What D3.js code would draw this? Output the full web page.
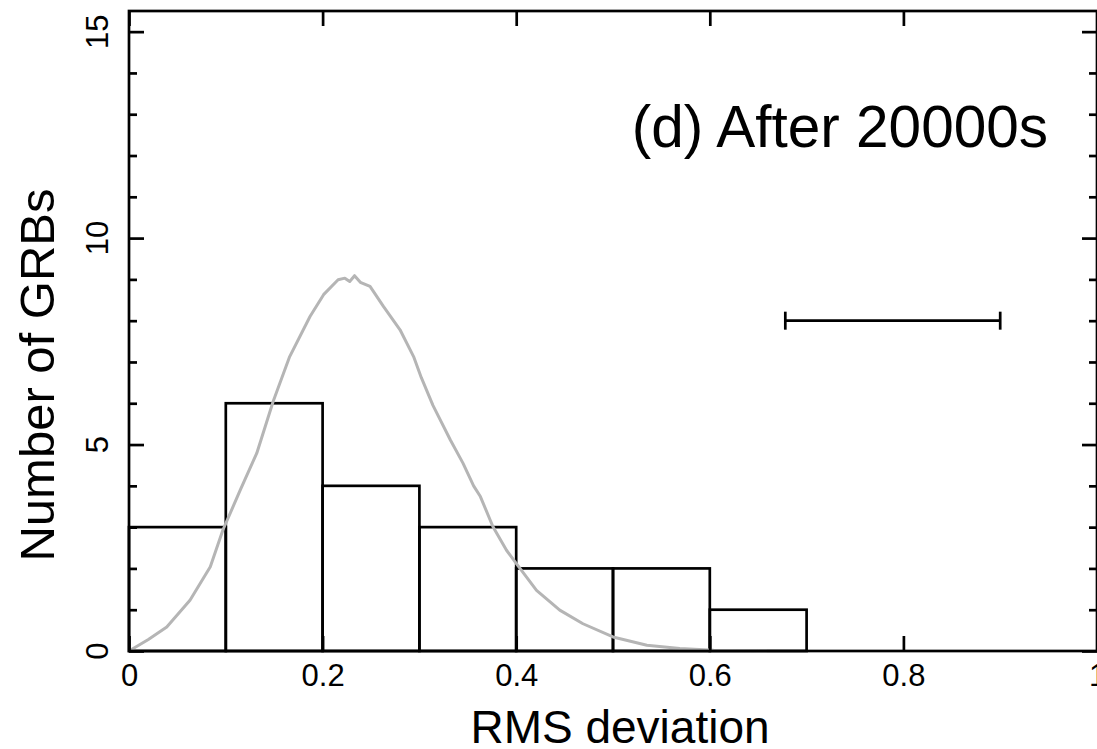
<!DOCTYPE html>
<html>
<head>
<meta charset="utf-8">
<script src="https://cdn.jsdelivr.net/npm/d3@7"></script>
<style>
  body { margin: 0; background: #fff; }
  svg { display: block; font-family: "Liberation Sans", Arial, sans-serif; }
</style>
</head>
<body>
<div id="chart"></div>
<script>
// histogram bins (RMS deviation) and counts
const binEdges = [0, 0.1, 0.2, 0.3, 0.4, 0.5, 0.6, 0.7];
const counts = [3, 6, 4, 3, 2, 2, 1];

// grey model curve
const curveX = [0, 0.02, 0.039, 0.063, 0.084, 0.097, 0.115, 0.132, 0.149, 0.166, 0.187, 0.201, 0.216, 0.223, 0.228, 0.233, 0.239, 0.249, 0.263, 0.28, 0.294, 0.302, 0.314, 0.332, 0.345, 0.356, 0.363, 0.376, 0.39, 0.4, 0.421, 0.435, 0.445, 0.469, 0.5, 0.535, 0.569, 0.604, 0.659];
const curveY = [0, 0.28, 0.58, 1.23, 2.04, 2.93, 3.9, 4.79, 6.05, 7.13, 8.1, 8.63, 8.99, 9.03, 8.95, 9.09, 8.93, 8.83, 8.34, 7.78, 7.13, 6.62, 5.95, 5.11, 4.55, 4.0, 3.74, 3.01, 2.44, 2.12, 1.47, 1.19, 0.99, 0.66, 0.34, 0.14, 0.06, 0.02, 0];

// error bar
const errRange = [0.678, 0.9];
const errLevel = 8;

const xTicks = [0, 0.2, 0.4, 0.6, 0.8, 1];
const yTicks = [0, 5, 10, 15];
const yMinor = d3.range(0, 16).filter(d => d % 5 !== 0);

const width = 1097, height = 749;
const plotLeft = 129, plotRight = 1097, plotTop = 11, plotBottom = 651;
const lw = 2.7;

const svg = d3.select("#chart").append("svg")
    .attr("width", width)
    .attr("height", height);

const x = d3.scaleLinear().domain([0, 1]).range([plotLeft, plotRight]);
const y = d3.scaleLinear().domain([0, 15.5]).range([plotBottom, plotTop]);

// bars
const bins = counts.map((c, i) => ({ x0: binEdges[i], x1: binEdges[i + 1], n: c }));
svg.append("g")
    .selectAll("rect")
    .data(bins)
    .enter().append("rect")
    .attr("x", d => x(d.x0))
    .attr("y", d => y(d.n))
    .attr("width", d => x(d.x1) - x(d.x0))
    .attr("height", d => y(0) - y(d.n))
    .attr("fill", "none")
    .attr("stroke", "#000")
    .attr("stroke-width", lw);

// grey curve
const pts = curveX.map((v, i) => [v, curveY[i]]);
svg.append("path")
    .datum(pts)
    .attr("fill", "none")
    .attr("stroke", "#b5b5b5")
    .attr("stroke-width", 3)
    .attr("stroke-linejoin", "round")
    .attr("d", d3.line().x(d => x(d[0])).y(d => y(d[1])));

// axes, ticks pointing inward
function styleAxis(g) {
    g.select(".domain").remove();
    g.selectAll(".tick line").attr("stroke", "#000").attr("stroke-width", lw);
}

svg.append("g")
    .attr("transform", `translate(0,${plotBottom})`)
    .call(d3.axisBottom(x).tickValues(xTicks).tickSizeInner(-15).tickSizeOuter(0).tickPadding(13).tickFormat(d => d))
    .call(styleAxis)
    .call(g => g.selectAll("text").attr("font-size", 31).attr("fill", "#000")
        .attr("font-family", "Liberation Sans, Arial, sans-serif"));

svg.append("g")
    .attr("transform", `translate(0,${plotTop})`)
    .call(d3.axisTop(x).tickValues(xTicks).tickSizeInner(-15).tickSizeOuter(0).tickFormat(""))
    .call(styleAxis);

[[d3.axisLeft, plotLeft], [d3.axisRight, plotRight]].forEach(([ax, pos]) => {
    svg.append("g")
        .attr("transform", `translate(${pos},0)`)
        .call(ax(y).tickValues(yTicks).tickSizeInner(-15).tickSizeOuter(0).tickFormat(""))
        .call(styleAxis);
    svg.append("g")
        .attr("transform", `translate(${pos},0)`)
        .call(ax(y).tickValues(yMinor).tickSizeInner(-8).tickSizeOuter(0).tickFormat(""))
        .call(styleAxis);
});

// rotated y tick labels
svg.append("g")
    .selectAll("text")
    .data(yTicks)
    .enter().append("text")
    .attr("transform", d => `translate(108,${y(d)}) rotate(-90)`)
    .attr("text-anchor", "middle")
    .attr("font-size", 31)
    .text(d => d);

// frame
svg.append("rect")
    .attr("x", plotLeft)
    .attr("y", plotTop)
    .attr("width", plotRight - plotLeft)
    .attr("height", plotBottom - plotTop)
    .attr("fill", "none")
    .attr("stroke", "#000")
    .attr("stroke-width", lw);

// error bar
const eb = svg.append("g").attr("stroke", "#000").attr("stroke-width", lw);
eb.append("line")
    .attr("x1", x(errRange[0])).attr("x2", x(errRange[1]))
    .attr("y1", y(errLevel)).attr("y2", y(errLevel));
eb.selectAll(".cap")
    .data(errRange)
    .enter().append("line")
    .attr("x1", d => x(d)).attr("x2", d => x(d))
    .attr("y1", y(errLevel) - 9).attr("y2", y(errLevel) + 9);

// labels
svg.append("text")
    .attr("x", 1048)
    .attr("y", 147)
    .attr("text-anchor", "end")
    .attr("font-size", 58.5)
    .text("(d) After 20000s");

svg.append("text")
    .attr("x", 620)
    .attr("y", 743)
    .attr("text-anchor", "middle")
    .attr("font-size", 46)
    .text("RMS deviation");

svg.append("text")
    .attr("transform", "translate(54,375) rotate(-90)")
    .attr("text-anchor", "middle")
    .attr("font-size", 49)
    .text("Number of GRBs");
</script>
</body>
</html>
